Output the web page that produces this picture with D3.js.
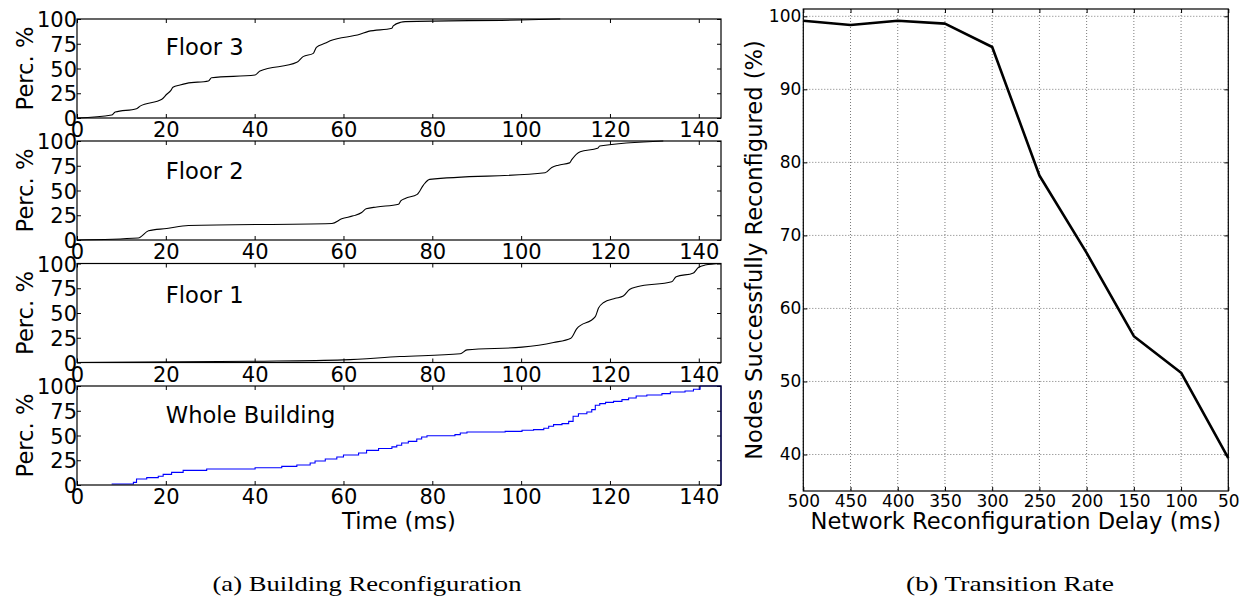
<!DOCTYPE html>
<html><head><meta charset="utf-8">
<script src="https://cdn.jsdelivr.net/npm/d3@7"></script>
<style>
body{margin:0;background:#fff}
svg{display:block}
text{font-family:"DejaVu Sans",sans-serif;fill:#000}
</style></head><body>
<svg id="c" width="1242" height="598"></svg>
<script>
// ---------- data (left: cumulative % of nodes reconfigured vs time in ms) ----------
const floor3 = [[0,0],[7.8,3],[8.6,6],[13.4,9.4],[14.2,12],[19.1,18.9],[20.2,24],[21.1,27.6],[21.6,31],[23.2,33.3],[24.7,35],[29.6,37.4],[30.3,40.7],[40.1,43.4],[41.2,47.4],[49.5,56.2],[50.9,62],[53.2,65.3],[53.9,71.4],[55.8,75.4],[57,78],[63.7,84.5],[65.6,87.5],[70.9,90.6],[71.2,93],[72.9,96.7],[73.9,97.3],[99.8,99],[108.8,100]];
const floor2 = [[0,0],[13.8,2],[16.1,9.3],[20.2,11.6],[25.1,14.7],[57.4,16.7],[59.6,21.4],[62.2,24.4],[64.1,27.7],[65.1,31.5],[67.5,33.4],[72.4,36.2],[72.9,39.5],[73.9,42],[76.6,46.1],[78,55.5],[79.4,61.2],[105.4,67.9],[106.9,73.3],[108.4,75.6],[110.9,77.9],[111.4,81.2],[113.3,89.2],[117.2,92.6],[117.7,94.9],[132,100]];
const floor1 = [[0,0],[40,1.2],[60,2.7],[72.7,6],[86.3,8.8],[87.8,12.8],[100.2,15.5],[107.3,20.2],[111.2,24.5],[112.5,33.9],[116.7,46.3],[117.4,54.7],[118.5,60.4],[121.2,64.8],[123,67.1],[124.4,73.8],[126.1,76.5],[133.9,81.5],[134.9,86.5],[138.8,90.5],[139.9,96],[141.4,98.4],[145,100]];
// whole building: step series (time at which the percentage jumps, new percentage)
const building = [[7.8,1],[12.7,2.7],[13.4,6],[15.7,7.4],[18.3,8.8],[19.4,10.7],[21.3,12.8],[23.9,14.8],[29.2,16.2],[40.1,17.5],[46.1,18.8],[49.5,20.2],[52.5,22.2],[53.6,24.2],[55.9,26.3],[58.5,28.3],[60,30.3],[63.4,32.3],[65.2,35],[67.9,36.8],[70.9,38.5],[72,40.2],[73.1,42.4],[74.6,44.1],[76.5,46.5],[77.6,48.5],[78.8,49.8],[85.1,50.9],[86.3,52.6],[87.8,53.6],[96.4,54.2],[100.2,55.3],[102.8,55.9],[105.1,57.3],[106.2,59.3],[107.3,61],[109.2,62],[110.7,64.3],[111.7,69.4],[112.9,72],[114.8,73.7],[115.9,76.1],[116.7,80.5],[117.7,82.2],[119,83.5],[120.8,84.5],[122.7,86.2],[124.2,87.9],[125.9,89.9],[128.3,90.9],[131.7,92.3],[133.6,93.9],[136.9,95],[138.8,96.7],[140.3,100],[145,100],[145,0]];
const panelNames = ["Floor 3","Floor 2","Floor 1","Whole Building"];
const timeTicks = [0,20,40,60,80,100,120,140];
const percTicks = [0,25,50,75,100];

// ---------- data (right: transition rate) ----------
const delays = [500,450,400,350,300,250,200,150,100,50];
const successRate = [99.4,98.8,99.4,99.0,95.8,78.2,67.6,56.2,51.2,39.5];
const rateTicks = [40,50,60,70,80,90,100];

const svg = d3.select("#c");

// ---------- left panels ----------
const L = {x0:77, x1:721, tops:[19,141,263.5,386], h:99};
const xL = d3.scaleLinear().domain([0,145]).range([L.x0,L.x1]);
const series = [floor3, floor2, floor1, building];
const fsTick = 21, fsLab = 22.6;

series.forEach((data,i)=>{
  const top = L.tops[i], bot = top + L.h;
  const y = d3.scaleLinear().domain([0,100]).range([bot,top]);
  const g = svg.append("g");
  const ax = g.append("g").attr("transform",`translate(0,${bot})`)
    .call(d3.axisBottom(xL).tickValues(timeTicks).tickSize(-4).tickPadding(4.5));
  ax.selectAll("text").style("font-size",fsTick+"px");
  g.append("g").attr("transform",`translate(0,${top})`)
    .call(d3.axisTop(xL).tickValues(timeTicks).tickSize(-4).tickFormat(""));
  const ay = g.append("g").attr("transform",`translate(${L.x0},0)`)
    .call(d3.axisLeft(y).tickValues(percTicks).tickSize(-4).tickPadding(0));
  ay.selectAll("text").style("font-size",fsTick+"px").attr("dy","0.36em");
  g.append("g").attr("transform",`translate(${L.x1},0)`)
    .call(d3.axisRight(y).tickValues(percTicks).tickSize(-4).tickFormat(""));
  g.selectAll(".domain").remove();
  g.selectAll(".tick line").attr("stroke","#000").attr("stroke-width",1);
  const line = d3.line().x(d=>xL(d[0])).y(d=>y(d[1]));
  if (i===3) line.curve(d3.curveStepAfter); else line.curve(d3.curveMonotoneX);
  g.append("path").datum(data).attr("d",line).attr("fill","none")
    .attr("stroke", i===3 ? "#0000ff" : "#000").attr("stroke-width",1.1);
  g.append("rect").attr("x",L.x0).attr("y",top).attr("width",L.x1-L.x0).attr("height",L.h)
    .attr("fill","none").attr("stroke","#000").attr("stroke-width",1.2);
  g.append("text").attr("x",xL(20)).attr("y",[55,179,303,423][i])
    .style("font-size",fsLab+"px").text(panelNames[i]);
  g.append("text").attr("transform",`translate(33,${(top+bot)/2}) rotate(-90)`)
    .attr("text-anchor","middle").style("font-size",fsLab+"px").text("Perc. %");
});
svg.append("text").attr("x",(L.x0+L.x1)/2).attr("y",529).attr("text-anchor","middle")
  .style("font-size",fsLab+"px").text("Time (ms)");

// ---------- right panel ----------
const R = {x0:803.3, x1:1228.3, y0:9, y1:491};
const xR = d3.scalePoint().domain(delays).range([R.x0,R.x1]);
const yR = d3.scaleLinear().domain([35,101]).range([R.y1,R.y0]);
const gr = svg.append("g");
gr.selectAll("line.gx").data(delays).join("line").attr("class","gx")
  .attr("x1",d=>xR(d)).attr("x2",d=>xR(d)).attr("y1",R.y0).attr("y2",R.y1)
  .attr("stroke","#7a7a7a").attr("stroke-width",1).attr("stroke-dasharray","1,2");
gr.selectAll("line.gy").data(rateTicks).join("line").attr("class","gy")
  .attr("x1",R.x0).attr("x2",R.x1).attr("y1",d=>yR(d)).attr("y2",d=>yR(d))
  .attr("stroke","#7a7a7a").attr("stroke-width",1).attr("stroke-dasharray","1,2");
const fsR = 17;
const bx = gr.append("g").attr("transform",`translate(0,${R.y1})`)
  .call(d3.axisBottom(xR).tickSize(-4).tickPadding(4));
bx.selectAll("text").style("font-size",fsR+"px");
gr.append("g").attr("transform",`translate(0,${R.y0})`)
  .call(d3.axisTop(xR).tickSize(-4).tickFormat(""));
const by = gr.append("g").attr("transform",`translate(${R.x0},0)`)
  .call(d3.axisLeft(yR).tickValues(rateTicks).tickSize(-4).tickPadding(2));
by.selectAll("text").style("font-size",fsR+"px");
gr.append("g").attr("transform",`translate(${R.x1},0)`)
  .call(d3.axisRight(yR).tickValues(rateTicks).tickSize(-4).tickFormat(""));
gr.selectAll(".domain").remove();
gr.selectAll(".tick line").attr("stroke","#000");
const pts = delays.map((d,i)=>[d,successRate[i]]);
gr.append("path").datum(pts)
  .attr("d",d3.line().x(d=>xR(d[0])).y(d=>yR(d[1])))
  .attr("fill","none").attr("stroke","#000").attr("stroke-width",2.6).attr("stroke-linejoin","round");
gr.append("rect").attr("x",R.x0).attr("y",R.y0).attr("width",R.x1-R.x0).attr("height",R.y1-R.y0)
  .attr("fill","none").attr("stroke","#000").attr("stroke-width",1.2);
gr.append("text").attr("x",(R.x0+R.x1)/2).attr("y",529).attr("text-anchor","middle")
  .style("font-size",fsLab+"px").text("Network Reconfiguration Delay (ms)");
gr.append("text").attr("transform",`translate(762,${(R.y0+R.y1)/2}) rotate(-90)`)
  .attr("text-anchor","middle").style("font-size",fsLab+"px").text("Nodes Successfully Reconfigured (%)");

// ---------- captions ----------
const captions = [["(a) Building Reconfiguration",367,309],["(b) Transition Rate",1010,208]];
captions.forEach(c=>{
  svg.append("text").attr("x",c[1]).attr("y",591).attr("text-anchor","middle")
    .attr("textLength",c[2]).attr("lengthAdjust","spacingAndGlyphs")
    .style("font-family","'Liberation Serif',serif").style("font-size","22px").text(c[0]);
});
</script></body></html>
